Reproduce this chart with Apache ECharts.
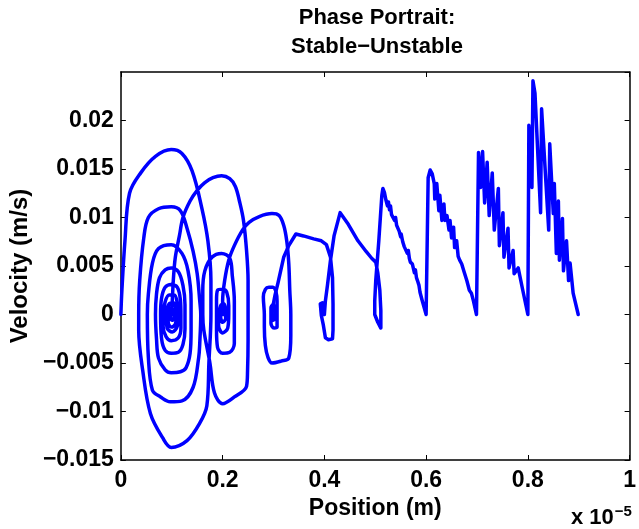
<!DOCTYPE html>
<html>
<head>
<meta charset="utf-8">
<script src="https://cdn.jsdelivr.net/npm/echarts@6/dist/echarts.min.js"></script>
<style>html,body{margin:0;padding:0;background:#fff;}#c{width:639px;height:529px;}</style>
</head>
<body>
<div id="c"></div>
<script>
// Position in units of 1e-5 m, velocity in m/s.
// Part 1: damped spirals into 0.1, 0.2, 0.3
const spiralPosition = [
  0,.002,.008,.017,.039,.068,.099,.120,.140,.159,.171,.177,.177,
  .173,.169,.155,.130,.099,.082,.058,.043,.035,.035,
  .037,.045,.054,.074,.099,.117,.130,.142,.150,.155,.157,
  .155,.153,.142,.120,.097,.078,.062,.054,.052,
  .054,.062,.074,.099,.120,.132,.138,.138,
  .138,.136,.128,.117,.099,.087,.074,.070,.068,
  .070,.076,.087,.099,.113,.122,.126,.126,
  .126,.122,.113,.099,.087,.080,.078,
  .080,.087,.099,.111,.117,.118,
  .118,.113,.099,.089,.083,.083,
  .087,.095,.105,.111,.113,
  .111,.101,.091,.089,
  .095,.103,.109,
  .107,.099,.093,.093,
  .097,.103,.105,
  .101,.097,.097,.099,.101,.099,
  .101,.103,.107,.115,.122,.136,.150,.165,.181,.198,.214,.225,.233,.241,.247,.250,.250,
  .250,.249,.247,.223,.200,.184,.175,.163,.161,
  .161,.165,.179,.198,.214,.219,.223,.223,
  .223,.214,.200,.190,.188,.188,
  .188,.190,.200,.208,.212,.212,
  .210,.200,.192,.194,
  .196,.202,.206,.206,.200,.196,.200,.202,.200,
  .200,.204,.212,.223,.239,.252,.272,.297,.311,.320,.326,.330,.332,.334,
  .334,.330,.315,.297,.289,.284,.282,.282,
  .280,.284,.291,.299,.305,.307,.307,
  .307,.301,.295,.295,
  .295,.299,.303,.303,.299,.297
];
const spiralVelocity = [
  0,.0025,.0076,.0125,.0146,.0163,.0170,.0166,.0148,.0110,.0076,.0035,0,
  -.0050,-.0094,-.0112,-.0130,-.0137,-.0127,-.0102,-.0058,-.0016,0,
  .0035,.0079,.0100,.0109,.0111,.0107,.0089,.0065,.0042,.0014,0,
  -.0030,-.0044,-.0075,-.0089,-.0090,-.0085,-.0078,-.0044,0,
  .0021,.0053,.0068,.0072,.0063,.0045,.0014,0,
  -.0016,-.0040,-.0055,-.0059,-.0060,-.0057,-.0045,-.0025,0,
  .0021,.0038,.0046,.0048,.0044,.0030,.0010,0,
  -.0015,-.0031,-.0039,-.0040,-.0037,-.0025,0,
  .0017,.0028,.0031,.0028,.0015,0,
  -.0014,-.0024,-.0027,-.0023,-.0012,0,
  .0013,.0020,.0020,.0011,0,
  -.0012,-.0018,-.0014,0,
  .0011,.0012,0,
  -.0010,-.0013,-.0008,0,
  .0007,.0005,0,
  -.0006,-.0004,0,.0003,0,0,
  .0014,.0035,.0059,.0081,.0100,.0117,.0128,.0136,.0141,.0143,.0140,.0132,.0117,.0097,.0066,.0035,0,
  -.0027,-.0058,-.0074,-.0085,-.0092,-.0081,-.0050,-.0016,0,
  .0025,.0045,.0059,.0063,.0058,.0040,.0014,0,
  -.0030,-.0039,-.0040,-.0034,-.0016,0,
  .0014,.0025,.0026,.0023,.0009,0,
  -.0014,-.0019,-.0011,0,
  .0009,.0011,.0004,-.0004,-.0008,-.0002,.0004,0,0,
  .0014,.0035,.0056,.0071,.0087,.0095,.0101,.0104,.0102,.0092,.0076,.0053,.0025,0,
  -.0022,-.0045,-.0048,-.0050,-.0044,-.0032,-.0013,0,
  .0018,.0026,.0028,.0028,.0023,.0014,0,
  -.0013,-.0014,-.0009,0,
  .0007,.0010,.0006,-.0004,-.0006,0
];
// Part 2: jumps 0.3 -> 0.4 -> ... -> 0.9 (starts where part 1 ends)
const jumpPosition = [
  .297,
  .299,.303,.309,.320,.330,.344,.359,.379,.394,.404,.412,.416,.417,.417,.416,.408,.402,.398,.394,.392,.396,.398,.400,
  .402,.406,.412,.419,.431,.447,.466,.482,.493,.501,.505,.509,.511,.511,.505,.499,
  .499,.501,.507,.513,.515,.518,.521,.524,.526,.528,.530,.532,.535,.538,.540,.542,.544,.547,.550,.551,.554,.557,.560,.563,.565,.567,.569,.573,.577,.579,.581,.583,.586,.588,.592,.600,
  .602,.604,.608,.612,.616,.617,.621,.625,.627,.631,.635,.637,.641,.645,.647,.650,.654,.656,.660,.663,.666,.670,.674,.677,.680,.683,.685,.689,.693,.699,
  .703,.707,.711,.715,.720,.724,.730,.734,.742,.744,.751,.753,.761,.763,.771,.773,.781,.790,.800,
  .802,.804,.808,.810,.814,.825,.827,.841,.843,.850,.852,.856,.860,.862,.868,.870,.876,.880,.883,.889,.899
];
const jumpVelocity = [
  0,
  .0009,.0020,.0033,.0059,.0071,.0083,.0081,.0078,.0076,.0072,.0059,.0038,.0011,-.0016,-.0025,-.0026,-.0024,-.0011,-.0001,.0011,.0012,.0004,0,
  .0014,.0030,.0056,.0081,.0105,.0093,.0076,.0065,.0058,.0054,.0043,.0025,.0004,-.0014,-.0008,0,
  .0014,.0035,.0076,.0123,.0130,.0126,.0118,.0112,.0116,.0108,.0112,.0103,.0105,.0097,.0100,.0092,.0090,.0086,.0080,.0083,.0075,.0070,.0072,.0063,.0066,.0058,.0054,.0052,.0043,.0046,.0038,.0035,.0030,.0023,.0015,0,
  0,.0141,.0149,.0145,.0135,.0119,.0135,.0107,.0123,.0097,.0114,.0097,.0102,.0087,.0097,.0079,.0090,.0069,.0076,.0060,.0056,.0052,.0045,.0044,.0035,.0033,.0025,.0022,.0014,0,
  .0167,.0131,.0168,.0115,.0157,.0102,.0146,.0087,.0130,.0071,.0105,.0059,.0089,.0048,.0066,.0042,.0048,.0025,0,
  .0195,.0193,.0131,.0241,.0228,.0105,.0212,.0087,.0176,.0104,.0135,.0063,.0117,.0056,.0099,.0045,.0076,.0035,.0053,.0022,0
];
const xTicks = [0, 0.2, 0.4, 0.6, 0.8, 1];
const yTicks = [-0.015, -0.01, -0.005, 0, 0.005, 0.01, 0.015, 0.02, 0.025];

const FONT = '"Liberation Sans", Arial, Helvetica, sans-serif';
const FS = 23;
const spiralData = spiralPosition.map((x, i) => [x, spiralVelocity[i]]);
const jumpData = jumpPosition.map((x, i) => [x, jumpVelocity[i]]);
const fmt = v => String(+v.toFixed(4)).replace('-', '\u2212');
const chart = echarts.init(document.getElementById('c'), null, {renderer: 'canvas'});
const axisCommon = {
  axisLine: {show: true, onZero: false, lineStyle: {color: '#000', width: 1.5}},
  axisTick: {show: true, inside: true, length: 5, lineStyle: {color: '#000', width: 1}},
  splitLine: {show: false}
};
const lineStyle = {color: '#0000ff', width: 3.5, join: 'round', cap: 'round'};
chart.setOption({
  animation: false,
  backgroundColor: '#fff',
  grid: {left: 120, right: 4, top: 72, bottom: 69, containLabel: false},
  xAxis: [
    Object.assign({
      type: 'value', min: xTicks[0], max: xTicks[xTicks.length - 1], interval: 0.2, position: 'bottom',
      axisLabel: {color: '#000', fontFamily: FONT, fontWeight: 'bold', fontSize: FS, margin: 9, formatter: fmt},
      name: 'Position (m)', nameLocation: 'middle', nameGap: 28,
      nameTextStyle: {color: '#000', fontFamily: FONT, fontWeight: 'bold', fontSize: FS}
    }, axisCommon),
    Object.assign({
      type: 'value', min: xTicks[0], max: xTicks[xTicks.length - 1], interval: 0.2, position: 'top',
      axisLabel: {show: false}
    }, axisCommon)
  ],
  yAxis: [
    Object.assign({
      type: 'value', min: yTicks[0], max: yTicks[yTicks.length - 1], interval: 0.005, position: 'left',
      axisLabel: {color: '#000', fontFamily: FONT, fontWeight: 'bold', fontSize: FS, margin: 7, formatter: fmt, showMaxLabel: false},
      name: 'Velocity (m/s)', nameLocation: 'middle', nameGap: 85,
      nameTextStyle: {color: '#000', fontFamily: FONT, fontWeight: 'bold', fontSize: FS + 1}
    }, axisCommon),
    Object.assign({
      type: 'value', min: yTicks[0], max: yTicks[yTicks.length - 1], interval: 0.005, position: 'right',
      axisLabel: {show: false}
    }, axisCommon)
  ],
  graphic: [
    {type: 'text', left: 377 - 100, top: 3, style: {text: 'Phase Portrait:\nStable\u2212Unstable', width: 200, align: 'center',
      x: 100, textAlign: 'center', fill: '#000', font: 'bold 22px ' + FONT, lineHeight: 29}},
    {type: 'text', left: 571, top: 504, style: {
      text: 'x 10{s|\u22125}', fill: '#000', font: 'bold 22px ' + FONT,
      rich: {s: {fontSize: 15, fontWeight: 'bold', fontFamily: FONT, verticalAlign: 'top', padding: [0, 0, 12, 1]}}
    }}
  ],
  series: [
    {type: 'line', data: spiralData, showSymbol: false, smooth: 0.35, clip: true, lineStyle: lineStyle},
    {type: 'line', data: jumpData, showSymbol: false, smooth: false, clip: true, lineStyle: lineStyle}
  ]
});
</script>
</body>
</html>
